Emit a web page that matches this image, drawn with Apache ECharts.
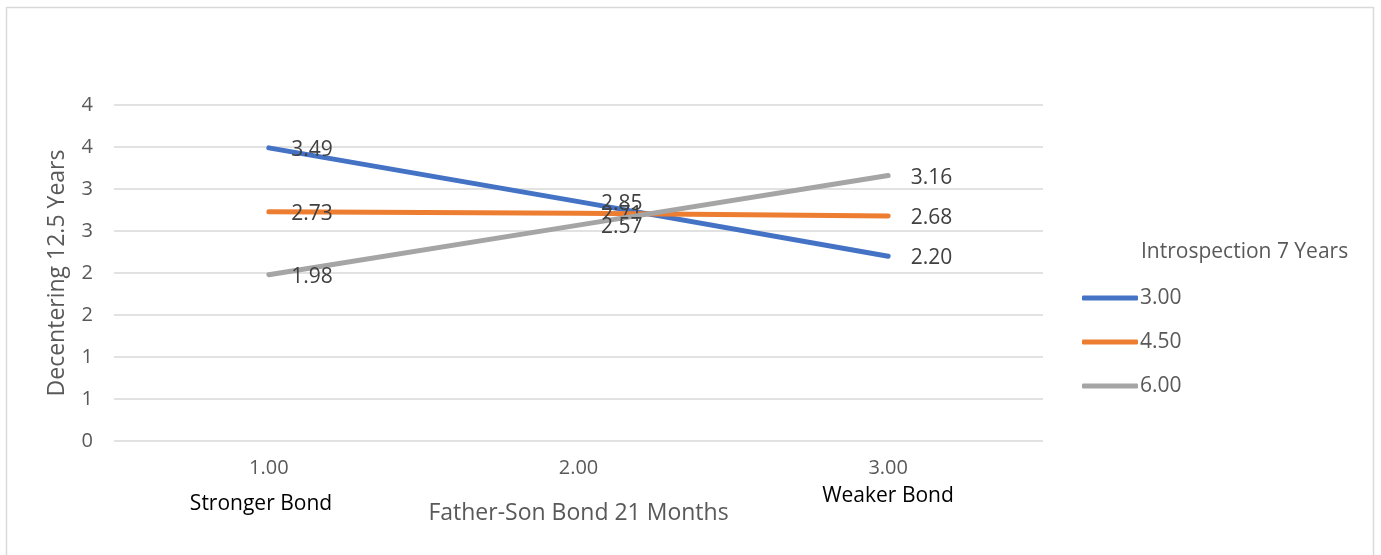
<!DOCTYPE html>
<html>
<head>
<meta charset="utf-8">
<script src="https://cdn.jsdelivr.net/npm/echarts@6/dist/echarts.min.js"></script>
<style>
  html, body { margin: 0; padding: 0; background: #fff; }
  #chart { width: 1381px; height: 555px; }
</style>
</head>
<body>
<div id="chart"></div>
<script>
// Father-son bond categories (x axis)
const categories = ['1.00', '2.00', '3.00'];
// Introspection 7 Years groups (legend)
const seriesNames = ['3.00', '4.50', '6.00'];
// Decentering 12.5 Years predicted values per group
const values300 = [3.49, 2.85, 2.20];
const values450 = [2.73, 2.71, 2.68];
const values600 = [1.98, 2.57, 3.16];
// Y tick labels shown with zero decimals
const yTickLabels = ['0', '1', '1', '2', '2', '3', '3', '4', '4'];
const yTickValues = [0, 0.5, 1, 1.5, 2, 2.5, 3, 3.5, 4];

const FONT = 'Open Sans';
const GREY_TEXT = '#595959';
const colors = ['#4472C4', '#ED7D31', '#A5A5A5'];
const seriesValues = [values300, values450, values600];

const chart = echarts.init(document.getElementById('chart'), null, { renderer: 'canvas' });

const series = seriesNames.map((name, i) => ({
  name: name,
  type: 'line',
  data: seriesValues[i],
  symbol: 'circle',
  symbolSize: 1,
  showSymbol: true,
  itemStyle: { color: colors[i] },
  lineStyle: { color: colors[i], width: 5, cap: 'round' },
  label: {
    show: true,
    position: 'right',
    distance: 22,
    offset: [0, 2],
    color: '#404040',
    fontFamily: FONT,
    fontSize: 21,
    formatter: p => p.value.toFixed(2)
  },
  emphasis: { disabled: true },
  z: 3 + i
}));

chart.setOption({
  animation: false,
  textStyle: { fontFamily: FONT },
  grid: { left: 114, right: 338, top: 105, bottom: 114, containLabel: false },
  xAxis: {
    type: 'category',
    data: categories,
    boundaryGap: true,
    axisLine: { show: false },
    axisTick: { show: false },
    axisLabel: { color: GREY_TEXT, fontSize: 20, fontFamily: FONT, margin: 17 },
    name: 'Father-Son Bond 21 Months',
    nameLocation: 'middle',
    nameGap: 61,
    nameTextStyle: { color: GREY_TEXT, fontSize: 23, fontFamily: FONT }
  },
  yAxis: {
    type: 'value',
    min: 0,
    max: 4,
    interval: 0.5,
    axisLine: { show: false },
    axisTick: { show: false },
    splitLine: { lineStyle: { color: '#d9d9d9', width: 1.5 } },
    axisLabel: {
      color: GREY_TEXT, fontSize: 20, fontFamily: FONT, margin: 21,
      formatter: v => yTickLabels[yTickValues.indexOf(v)]
    },
    name: 'Decentering 12.5 Years',
    nameLocation: 'middle',
    nameGap: 45,
    nameTextStyle: { color: GREY_TEXT, fontSize: 23, fontFamily: FONT }
  },
  legend: {
    orient: 'vertical',
    left: 1077,
    top: 280,
    itemWidth: 56,
    itemHeight: 5,
    itemGap: 18,
    icon: 'roundRect',
    data: seriesNames,
    textStyle: { color: GREY_TEXT, fontSize: 21, fontFamily: FONT, lineHeight: 26, padding: [0, 0, 0, -3] }
  },
  graphic: [
    {
      type: 'rect',
      shape: { x: 6.5, y: 7.5, width: 1367, height: 560 },
      style: { fill: null, stroke: '#d9d9d9', lineWidth: 1.5 },
      silent: true
    },
    {
      type: 'text',
      x: 1141, y: 252,
      style: { text: 'Introspection 7 Years', fill: GREY_TEXT, font: '21px "Open Sans"', verticalAlign: 'middle' }
    },
    {
      type: 'text',
      x: 261, y: 504,
      style: { text: 'Stronger Bond', fill: '#000', font: '21px "Open Sans"', align: 'center', verticalAlign: 'middle' }
    },
    {
      type: 'text',
      x: 888, y: 496,
      style: { text: 'Weaker Bond', fill: '#000', font: '21px "Open Sans"', align: 'center', verticalAlign: 'middle' }
    }
  ],
  series: series
});
</script>
</body>
</html>
